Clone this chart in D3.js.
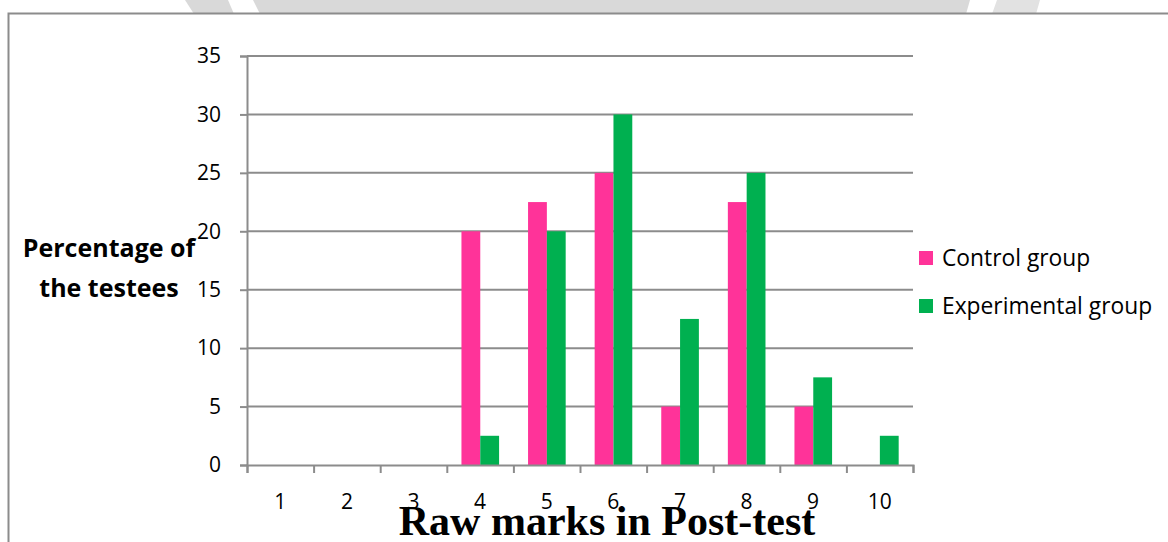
<!DOCTYPE html>
<html>
<head>
<meta charset="utf-8">
<script src="https://cdn.jsdelivr.net/npm/d3@7"></script>
<style>
  html, body { margin: 0; padding: 0; background: #fff; }
  svg { display: block; }
</style>
</head>
<body>
<div id="chart"></div>
<script>
// grouped bar chart - post-test raw marks

const categories = ["1", "2", "3", "4", "5", "6", "7", "8", "9", "10"];
const controlValues = [0, 0, 0, 20, 22.5, 25, 5, 22.5, 5, 0];
const experimentalValues = [0, 0, 0, 2.5, 20, 30, 12.5, 25, 7.5, 2.5];
const seriesNames = ["Control group", "Experimental group"];
const seriesColors = ["#FF3399", "#00B050"];
const yTicks = [0, 5, 10, 15, 20, 25, 30, 35];

const W = 1168, H = 542;
const plot = { left: 247, right: 913, top: 56, bottom: 465 };
const gridColor = "#8c8c8c";
const fontSans = "'Open Sans', 'Noto Sans', sans-serif";

const svg = d3.select("#chart")
  .append("svg")
  .attr("width", W)
  .attr("height", H);

// --- grey watermark strip at the top ---
const strip = svg.append("g");
strip.append("polygon")
  .attr("points", "185,0 228,0 234,14 194,14")
  .attr("fill", "#d9d9d9");
strip.append("polygon")
  .attr("points", "253,0 970,0 966,14 260,14")
  .attr("fill", "#d9d9d9");
strip.append("polygon")
  .attr("points", "997,0 1040,0 1036,14 992,14")
  .attr("fill", "#e2e2e2");

// --- frame ---
svg.append("path")
  .attr("d", `M8.5,${H} L8.5,13.5 L${W},13.5`)
  .attr("fill", "none")
  .attr("stroke", gridColor)
  .attr("stroke-width", 2);

// --- scales ---
const x = d3.scaleBand()
  .domain(categories)
  .range([plot.left, plot.right])
  .padding(0);

const bw = x.bandwidth();
const xSub = d3.scaleBand()
  .domain(seriesNames)
  .range([bw * 0.22, bw * 0.785])
  .padding(0);

const xEdge = d3.scaleLinear()
  .domain([0, categories.length])
  .range([plot.left, plot.right]);

const y = d3.scaleLinear()
  .domain([0, 35])
  .range([plot.bottom, plot.top]);

// --- gridlines ---
svg.append("g")
  .selectAll("line")
  .data(yTicks.filter(d => d > 0))
  .enter()
  .append("line")
  .attr("x1", plot.left)
  .attr("x2", plot.right)
  .attr("y1", d => y(d))
  .attr("y2", d => y(d))
  .attr("stroke", gridColor)
  .attr("stroke-width", 2);

// --- y axis ---
const yAxis = svg.append("g")
  .attr("transform", `translate(${plot.left},0)`)
  .call(d3.axisLeft(y).tickValues(yTicks).tickSize(7).tickPadding(19));
yAxis.select(".domain").attr("stroke", gridColor).attr("stroke-width", 2);
yAxis.selectAll(".tick line").attr("stroke", gridColor).attr("stroke-width", 2);
yAxis.selectAll("text")
  .attr("fill", "#000")
  .style("font-family", fontSans)
  .style("font-size", "21px");

// --- bars ---
const rows = categories.map((c, i) => ({
  cat: c,
  vals: [controlValues[i], experimentalValues[i]]
}));

const groups = svg.append("g")
  .selectAll("g")
  .data(rows)
  .enter()
  .append("g")
  .attr("transform", d => `translate(${x(d.cat)},0)`);

groups.selectAll("rect")
  .data(d => d.vals.map((v, j) => ({ name: seriesNames[j], value: v, j })))
  .enter()
  .append("rect")
  .attr("x", d => xSub(d.name))
  .attr("y", d => y(d.value))
  .attr("width", xSub.bandwidth())
  .attr("height", d => y(0) - y(d.value))
  .attr("fill", d => seriesColors[d.j]);

// --- x axis ---
const xTicks = svg.append("g")
  .attr("transform", `translate(0,${plot.bottom})`)
  .call(d3.axisBottom(xEdge).tickValues(d3.range(categories.length + 1)).tickSize(8).tickFormat(""));
xTicks.select(".domain").attr("stroke", gridColor).attr("stroke-width", 2);
xTicks.selectAll(".tick line").attr("stroke", gridColor).attr("stroke-width", 2);

const xLabels = svg.append("g")
  .attr("transform", `translate(0,${plot.bottom})`)
  .call(d3.axisBottom(x).tickSize(0).tickPadding(29));
xLabels.select(".domain").remove();
xLabels.selectAll("text")
  .attr("fill", "#000")
  .style("font-family", fontSans)
  .style("font-size", "21px");

// --- axis titles ---
const yTitle = svg.append("text")
  .attr("text-anchor", "middle")
  .style("font-family", fontSans)
  .style("font-weight", "bold")
  .style("font-size", "25px")
  .attr("fill", "#000");
yTitle.append("tspan").attr("x", 109).attr("y", 257).text("Percentage of");
yTitle.append("tspan").attr("x", 109).attr("y", 297).text("the testees");

svg.append("text")
  .attr("x", 607)
  .attr("y", 535)
  .attr("text-anchor", "middle")
  .style("font-family", "'Liberation Serif', 'Times New Roman', serif")
  .style("font-weight", "bold")
  .style("font-size", "42px")
  .attr("fill", "#000")
  .text("Raw marks in Post-test");

// --- legend ---
const legend = svg.selectAll(".legend")
  .data(seriesNames)
  .enter()
  .append("g")
  .attr("class", "legend")
  .attr("transform", (d, i) => `translate(919, ${251 + i * 48})`);

legend.append("rect")
  .attr("width", 14)
  .attr("height", 14)
  .attr("fill", (d, i) => seriesColors[i]);

legend.append("text")
  .attr("x", 23)
  .attr("y", 15)
  .style("font-family", fontSans)
  .style("font-size", "22.8px")
  .attr("fill", "#000")
  .text(d => d);
</script>
</body>
</html>
